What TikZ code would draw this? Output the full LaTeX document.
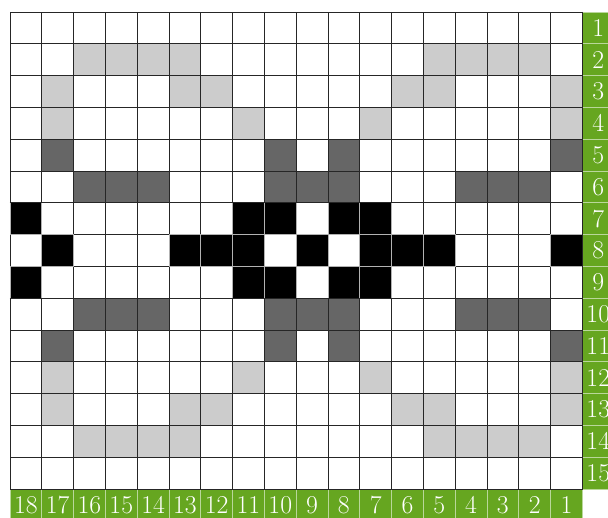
\documentclass[tikz,border=0pt]{standalone}
\usepackage{tikz}
\definecolor{labelgreen}{RGB}{102,166,32}
\definecolor{lightcell}{gray}{0.8}
\definecolor{darkcell}{gray}{0.4}

\begin{document}
\begin{tikzpicture}[
  x=1cm, y=-1cm,
  gridline/.style={draw=black!85, line width=0.6pt},
  lightsq/.style={fill=lightcell},
  darksq/.style={fill=darkcell},
  blacksq/.style={fill=black, draw=gray!60, line width=0.6pt},
  numlabel/.style={fill=labelgreen, draw=white!55!labelgreen, line width=0.8pt, minimum size=1cm, inner sep=0pt, text=white, font=\fontsize{23}{23}\selectfont}
]
  \useasboundingbox (-0.314,-0.377) rectangle (18.806,15.91);
  \clip (-0.314,-0.377) rectangle (18.806,15.91);

  % black squares first, so their shared edges stay light
  \foreach \r/\cols in {7/{1,8,9,11,12}, 8/{2,6,7,8,10,12,13,14,18}, 9/{1,8,9,11,12}}
    \foreach \c in \cols
      \draw[blacksq] (\c-1,\r-1) rectangle (\c,\r);

  % light grey squares
  \foreach \r/\cols in {2/{3,4,5,6,14,15,16,17}, 3/{2,6,7,13,14,18}, 4/{2,8,12,18},
                        12/{2,8,12,18}, 13/{2,6,7,13,14,18}, 14/{3,4,5,6,14,15,16,17}}
    \foreach \c in \cols
      \fill[lightsq] (\c-1,\r-1) rectangle (\c,\r);

  % dark grey squares
  \foreach \r/\cols in {5/{2,9,11,18}, 6/{3,4,5,9,10,11,15,16,17},
                        10/{3,4,5,9,10,11,15,16,17}, 11/{2,9,11,18}}
    \foreach \c in \cols
      \fill[darksq] (\c-1,\r-1) rectangle (\c,\r);

  % grid lines
  \foreach \r in {1,...,15}
    \foreach \c in {1,...,18}
      \draw[gridline] (\c-1,\r-1) rectangle (\c,\r);
  % light edges inside the black squares
  \foreach \r/\cols in {7/{1,8,9,11,12}, 8/{2,6,7,8,10,12,13,14,18}, 9/{1,8,9,11,12}}
    \foreach \c in \cols
      \draw[gray!60, line width=0.6pt] (\c-1,\r-1) rectangle (\c,\r);
  % edges between black and white squares
  \foreach \r/\cols in {7/{1,8,9,11,12}, 8/{2,6,7,8,10,12,13,14,18}, 9/{1,8,9,11,12}}
    \foreach \c in \cols {
      \draw[gridline] (\c-1,6) -- (\c,6);
      \draw[gridline] (\c-1,9) -- (\c,9);
    }

  % column numbers
  \foreach \i in {1,...,18}
    \node[numlabel] (col\i) at (18-\i+0.5,15.5) {\i};
  % row numbers
  \foreach \i in {1,...,15}
    \node[numlabel] (row\i) at (18.5,\i-0.5) {\i};
  \draw[gridline] (18,0) -- (18,15) -- (0,15);
\end{tikzpicture}
\end{document}
